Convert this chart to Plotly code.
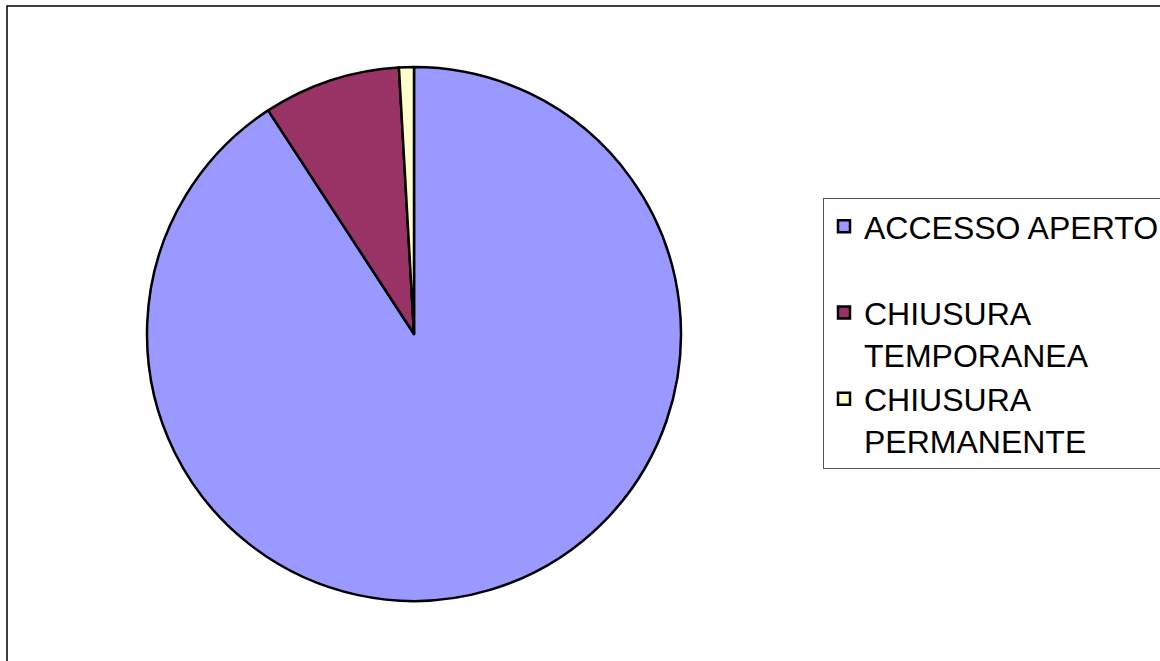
import plotly.graph_objects as go

labels = ["ACCESSO APERTO<br> ", "CHIUSURA<br>TEMPORANEA", "CHIUSURA<br>PERMANENTE"]
values = [90.8, 8.3, 0.9]
colors = ["#9999FF", "#993366", "#FFFFCC"]

W, H = 1160, 661
cx, cy, r = 414, 334, 267

fig = go.Figure(go.Pie(
    labels=labels,
    values=values,
    sort=False,
    direction="clockwise",
    rotation=0,
    textinfo="none",
    marker=dict(colors=colors, line=dict(color="#000000", width=2.5)),
    domain=dict(x=[(cx - r) / W, (cx + r) / W], y=[1 - (cy + r) / H, 1 - (cy - r) / H]),
))

fig.add_shape(type="rect", xref="paper", yref="paper",
              x0=7 / W, x1=1.02, y0=-0.02, y1=1 - 6 / H,
              line=dict(color="#000000", width=1.5), fillcolor="rgba(0,0,0,0)")

fig.update_layout(
    width=W, height=H,
    margin=dict(l=0, r=0, t=0, b=0, autoexpand=False),
    paper_bgcolor="white", plot_bgcolor="white",
    font=dict(family="Liberation Sans, Arial, sans-serif", color="#000000"),
    showlegend=True,
    legend=dict(
        x=823 / W, xanchor="left", y=1 - 198 / H, yanchor="top",
        bordercolor="#555555", borderwidth=1, bgcolor="white",
        font=dict(size=32, family="Liberation Sans, Arial, sans-serif", color="#000000"),
        valign="top", traceorder="normal",
    ),
)

fig.write_html("out.html",
               config={"displayModeBar": False},
               post_script="document.body.style.margin='0';document.body.style.overflow='hidden';")
